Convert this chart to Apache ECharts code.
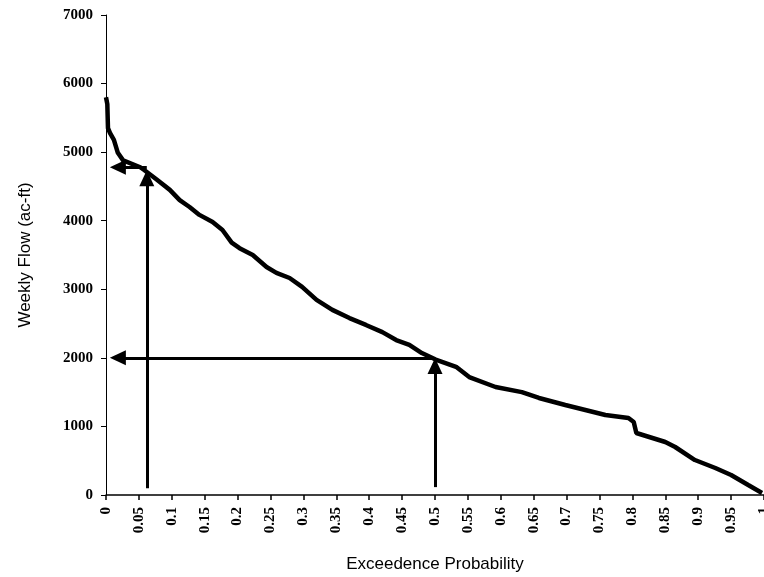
<!DOCTYPE html>
<html>
<head>
<meta charset="utf-8">
<script src="https://cdn.jsdelivr.net/npm/echarts@6/dist/echarts.min.js"></script>
<style>
    html, body { margin: 0; padding: 0; background: #fff; }
    #chart { width: 764px; height: 577px; }
</style>
</head>
<body>
<div id="chart"></div>
<script>
// exceedence probability and weekly flow (ac-ft)
const probs = [0.000, 0.002, 0.003, 0.006, 0.012, 0.018, 0.026, 0.052, 0.058, 0.077,
               0.097, 0.112, 0.127, 0.142, 0.162, 0.177, 0.191, 0.203, 0.223, 0.244,
               0.259, 0.279, 0.298, 0.320, 0.344, 0.370, 0.395, 0.420, 0.441, 0.461,
               0.480, 0.501, 0.532, 0.552, 0.592, 0.632, 0.658, 0.698, 0.759, 0.794,
               0.802, 0.806, 0.850, 0.865, 0.895, 0.926, 0.950, 0.976, 0.997];
const flows = [5800, 5700, 5350, 5280, 5180, 4990, 4880, 4780, 4740, 4600,
               4450, 4300, 4200, 4085, 3980, 3865, 3680, 3600, 3500, 3325,
               3240, 3165, 3035, 2845, 2700, 2580, 2480, 2375, 2260, 2190,
               2070, 1975, 1870, 1720, 1575, 1500, 1415, 1312, 1167, 1123,
               1065, 904, 773, 700, 510, 394, 292, 146, 30];

// arrows: [x0, y0, x1, y1] in data units, triangle head centred on the second point
const arrows = [
    [0.062, 100, 0.062, 4620],
    [0.062, 4780, 0.018, 4780],
    [0.5, 115, 0.5, 1880],
    [0.5, 2000, 0.018, 2000]
];

const curve = probs.map((p, i) => [p, flows[i]]);

const chart = echarts.init(document.getElementById('chart'));

chart.setOption({
    animation: false,
    backgroundColor: '#fff',
    grid: { left: 106, right: 0, top: 15, bottom: 82, outerBoundsMode: 'none', containLabel: false },
    xAxis: {
        type: 'value',
        min: 0,
        max: 1,
        interval: 0.05,
        name: 'Exceedence Probability',
        nameLocation: 'middle',
        nameGap: 61,
        nameTextStyle: { fontFamily: 'Liberation Sans', fontSize: 17, color: '#000' },
        axisLine: { lineStyle: { color: '#000', width: 1.5 } },
        axisTick: { show: true, length: 5, lineStyle: { color: '#000', width: 1.5 } },
        axisLabel: {
            rotate: 90,
            margin: 12,
            fontFamily: 'Liberation Serif',
            fontWeight: 'bold',
            fontSize: 15,
            color: '#000',
            formatter: v => String(+v.toFixed(2))
        },
        splitLine: { show: false }
    },
    yAxis: {
        type: 'value',
        min: 0,
        max: 7000,
        interval: 1000,
        name: 'Weekly Flow (ac-ft)',
        nameLocation: 'middle',
        nameGap: 72,
        nameTextStyle: { fontFamily: 'Liberation Sans', fontSize: 17, color: '#000' },
        axisLine: { show: true, lineStyle: { color: '#000', width: 1 } },
        axisTick: { show: true, length: 5, lineStyle: { color: '#000' } },
        axisLabel: {
            margin: 13,
            fontFamily: 'Liberation Serif',
            fontWeight: 'bold',
            fontSize: 15,
            color: '#000',
            formatter: v => String(v)
        },
        splitLine: { show: false }
    },
    series: [
        {
            type: 'line',
            data: curve,
            showSymbol: false,
            lineStyle: { color: '#000', width: 4.5 },
            markLine: {
                silent: true,
                symbol: ['none', 'triangle'],
                symbolSize: [15, 16],
                label: { show: false },
                lineStyle: { color: '#000', width: 3, type: 'solid' },
                data: arrows.map(a => [
                    { coord: [a[0], a[1]] },
                    { coord: [a[2], a[3]] }
                ])
            }
        }
    ]
});
</script>
</body>
</html>
